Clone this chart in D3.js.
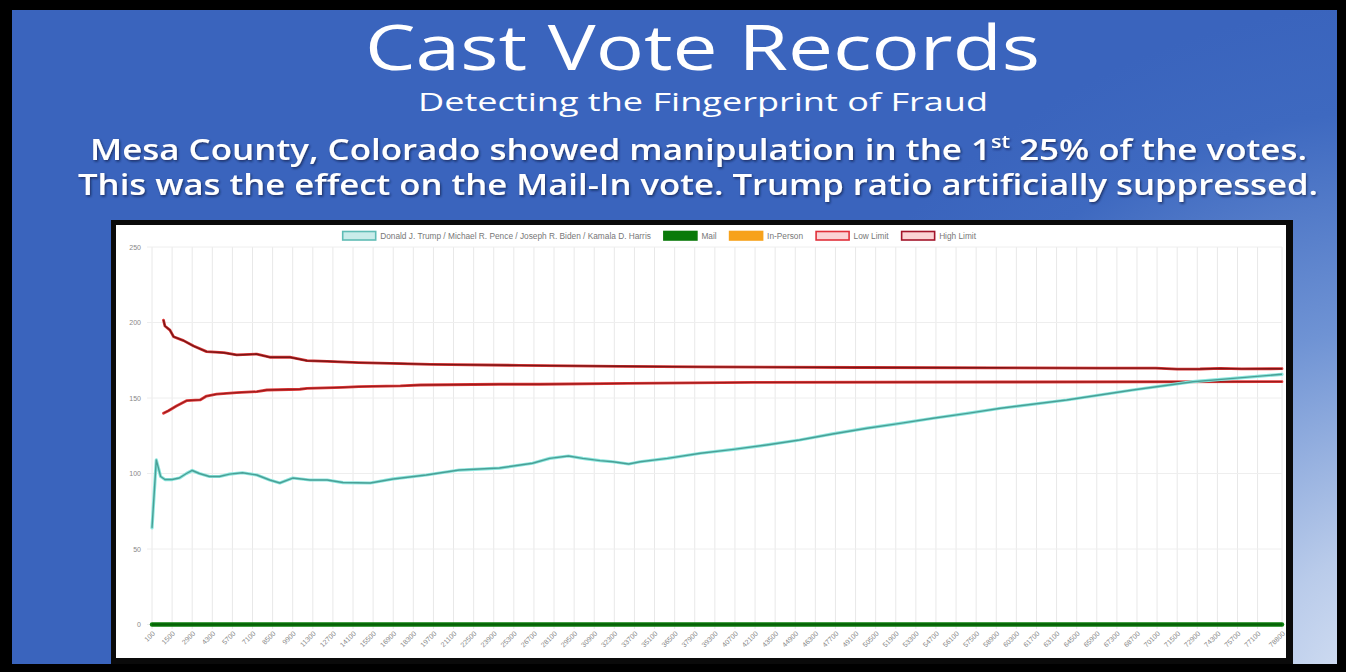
<!DOCTYPE html>
<html><head><meta charset="utf-8">
<script src="https://cdn.jsdelivr.net/npm/d3@7"></script>
<style>html,body{margin:0;padding:0;background:#000;overflow:hidden}</style>
</head><body><svg id="c" width="1346" height="672"></svg>
<script>
// ---------- DATA ----------
const trumpVotes = [100,400,700,1000,1500,2000,2500,2900,3400,4100,4800,5500,6400,7400,8300,9000,9900,11100,12300,13400,15300,16900,19200,21500,24300,26600,27800,29100,30100,31300,32200,33300,34100,36000,38300,40600,42900,45200,47500,49900,52200,54500,57000,59200,63800,68400,72600,75400,78800];
const trumpRatio = [64,109,98,96,96,97,100,102,100,98,98,99.6,100.5,99,95.7,93.7,97,95.7,95.7,94,93.7,96.4,99,102.3,103.6,106.8,110,111.6,110,108.5,107.8,106.3,107.8,110,113.4,116,118.9,122.2,126.2,130,133.2,136.6,140,143.2,148.7,155.3,160.8,163,165.7];

const highVotes = [900,1000,1350,1600,2300,3000,3900,5100,6000,7400,8300,9700,10900,12300,14500,17400,19500,25700,32700,38300,49400,59200,66100,70000,71500,73100,74500,76000,78800];
const highLimit = [201.6,197.7,195,190.6,188,184.4,180.7,180,178.5,179.1,177,177,174.7,174.3,173.4,172.8,172.3,171.6,171,170.6,170.2,170,169.8,169.8,169.1,169.2,169.6,169.3,169.4];

const lowVotes = [900,1250,1800,2500,3450,3900,4600,6000,7400,8100,10400,10900,13400,14500,17400,18800,24300,27100,33200,42000,59200,78800];
const lowLimit = [139.9,141.6,144.7,148.2,148.7,151.3,152.6,153.5,154.2,155.3,155.8,156.4,157.1,157.5,158,158.6,159.1,159.1,159.7,160.4,160.6,160.8];

const mailVotes = [100,78800];
const mailValues = [0,0];
const inPersonVotes = [];
const inPersonValues = [];

const xTickLabels = [100,1500,2900,4300,5700,7100,8500,9900,11300,12700,14100,15500,16900,18300,19700,21100,22500,23900,25300,26700,28100,29500,30900,32300,33700,35100,36500,37900,39300,40700,42100,43500,44900,46300,47700,49100,50500,51900,53300,54700,56100,57500,58900,60300,61700,63100,64500,65900,67300,68700,70100,71500,72900,74300,75700,77100,78800];
const yTickLabels = [0,50,100,150,200,250];
const legendLabels = ["Donald J. Trump / Michael R. Pence / Joseph R. Biden / Kamala D. Harris","Mail","In-Person","Low Limit","High Limit"];

const titleText = "Cast Vote Records";
const subtitleText = "Detecting the Fingerprint of Fraud";
const line4Text = "This was the effect on the Mail-In vote. Trump ratio artificially suppressed.";

// ---------- DRAW ----------
const svg = d3.select("#c");
const defs = svg.append("defs");
const rg = defs.append("radialGradient").attr("id","bg").attr("gradientUnits","userSpaceOnUse")
  .attr("cx",1420).attr("cy",720).attr("r",720);
rg.append("stop").attr("offset","0%").attr("stop-color","#e4ecf8");
rg.append("stop").attr("offset","25%").attr("stop-color","#b9cbea");
rg.append("stop").attr("offset","55%").attr("stop-color","#6f93d4");
rg.append("stop").attr("offset","85%").attr("stop-color","#3e69c0");
rg.append("stop").attr("offset","100%").attr("stop-color","#3a64bd");
const sh = defs.append("filter").attr("id","sh").attr("x","-5%").attr("y","-30%").attr("width","110%").attr("height","160%");
sh.append("feDropShadow").attr("dx",1.2).attr("dy",1.5).attr("stdDeviation",1).attr("flood-color","#0a1a40").attr("flood-opacity",0.7);
const lg = defs.append("linearGradient").attr("id","sep");
lg.append("stop").attr("offset","0%").attr("stop-color","#cfe0ff").attr("stop-opacity",0.5);
lg.append("stop").attr("offset","50%").attr("stop-color","#e8f0ff").attr("stop-opacity",0.95);
lg.append("stop").attr("offset","100%").attr("stop-color","#cfe0ff").attr("stop-opacity",0.6);

svg.append("rect").attr("width",1346).attr("height",672).attr("fill","#000");
svg.append("rect").attr("x",12).attr("y",10).attr("width",1325).attr("height",654).attr("fill","url(#bg)");

const FONT = "'Open Sans', 'Noto Sans', sans-serif";
function addText(x0, y0, size, weight, width, shadow){
  const t = svg.append("text").attr("x",x0).attr("y",y0)
    .attr("font-family",FONT).attr("font-size",size).attr("font-weight",weight)
    .attr("fill","#fff").attr("textLength",width).attr("lengthAdjust","spacingAndGlyphs");
  if(shadow) t.attr("filter","url(#sh)");
  return t;
}
addText(365, 70, 62, 400, 675).text(titleText);
addText(418, 111, 26, 400, 570).text(subtitleText);
svg.append("line").attr("x1",27).attr("x2",1323).attr("y1",118.5).attr("y2",118.5)
  .attr("stroke","url(#sep)").attr("stroke-width",1.6);
const t3 = addText(90, 160, 29, 600, 1217, true);
t3.append("tspan").text("Mesa County, Colorado showed manipulation in the 1");
t3.append("tspan").attr("font-size","0.62em").attr("baseline-shift","super").text("st");
t3.append("tspan").text(" 25% of the votes.");
addText(78, 195, 29, 600, 1240, true).text(line4Text);

// chart panel
svg.append("rect").attr("x",111).attr("y",220).attr("width",1182).attr("height",444).attr("fill","#0a0a0a");
svg.append("rect").attr("x",116).attr("y",225).attr("width",1170).attr("height",433).attr("fill","#fff");

const x = d3.scaleLinear().domain([100,78800]).range([152,1282]);
const y = d3.scaleLinear().domain([0,250]).range([624.5,247]);

const g = svg.append("g");
// gridlines
g.selectAll(".vg").data(xTickLabels).join("line")
  .attr("x1",d=>x(d)).attr("x2",d=>x(d)).attr("y1",247).attr("y2",629)
  .attr("stroke","#e8e8e8").attr("stroke-width",1);
g.selectAll(".hg").data(yTickLabels).join("line")
  .attr("x1",147).attr("x2",1282).attr("y1",d=>y(d)).attr("y2",d=>y(d))
  .attr("stroke","#eeeeee").attr("stroke-width",1);

// axes labels
const xAxis = d3.axisBottom(x).tickValues(xTickLabels).tickSize(0).tickFormat(d3.format("d"));
const xa = g.append("g").attr("transform","translate(0,630)").call(xAxis);
xa.select(".domain").remove();
xa.selectAll("text").attr("font-family","'Liberation Sans', Arial, sans-serif").attr("font-size",7).attr("fill","#888")
  .attr("text-anchor","end").attr("dy",0).attr("y",0)
  .attr("transform","translate(3,4) rotate(-45)");
const yAxis = d3.axisLeft(y).tickValues(yTickLabels).tickSize(0).tickFormat(d3.format("d"));
const ya = g.append("g").attr("transform","translate(141,0)").call(yAxis);
ya.select(".domain").remove();
ya.selectAll("text").attr("font-family","'Liberation Sans', Arial, sans-serif").attr("font-size",7).attr("fill","#888").attr("x",0);

// lines
const line = d3.line().x(d=>x(d[0])).y(d=>y(d[1]));
function draw(votes, vals, outer, ow, inner, iw){
  const pts = d3.zip(votes, vals);
  g.append("path").attr("d",line(pts)).attr("fill","none").attr("stroke",outer).attr("stroke-width",ow).attr("stroke-linejoin","round").attr("stroke-linecap","round");
  if(inner) g.append("path").attr("d",line(pts)).attr("fill","none").attr("stroke",inner).attr("stroke-width",iw).attr("stroke-linejoin","round");
}
draw(mailVotes, mailValues, "#0b7d0b", 4.5, "#066006", 2);
if(inPersonVotes.length) draw(inPersonVotes, inPersonValues, "#f5a623", 3);
draw(lowVotes, lowLimit, "#e23a3a", 2.8, "#9a1c1c", 1.3);
draw(highVotes, highLimit, "#d83434", 2.8, "#7a1616", 1.4);
draw(trumpVotes, trumpRatio, "#8ae6dd", 3.2, "#4a9f96", 1.4);

// legend
const legendStyles = [
  {fill:"#c9ecea", stroke:"#5fbcb5"},
  {fill:"#0a7a0a", stroke:"#0a7a0a"},
  {fill:"#f7a21b", stroke:"#f7a21b"},
  {fill:"#fbd3d5", stroke:"#e0303a"},
  {fill:"#fbd3d5", stroke:"#a3142a"}
];
let lx = 342.7;
const ly = 231.5;
legendLabels.forEach((lab,i)=>{
  g.append("rect").attr("x",lx).attr("y",ly).attr("width",33).attr("height",8.5)
    .attr("fill",legendStyles[i].fill).attr("stroke",legendStyles[i].stroke).attr("stroke-width",1.6);
  const t = g.append("text").attr("x",lx+37.5).attr("y",ly+7.5)
    .attr("font-family","'Liberation Sans', Arial, sans-serif").attr("font-size",8.3).attr("fill","#777").text(lab);
  lx += 37.5 + t.node().getComputedTextLength() + 13;
});
</script>
</body></html>
